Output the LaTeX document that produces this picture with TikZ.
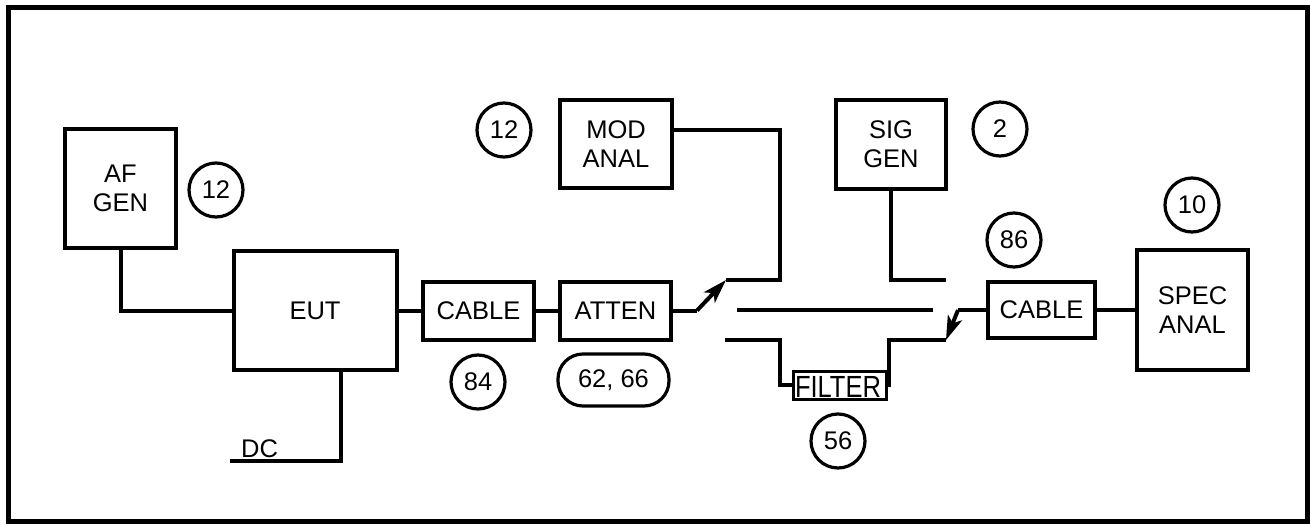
\documentclass[tikz,border=0pt]{standalone}
\usepackage{fontspec}
\setmainfont{Liberation Sans}
\usetikzlibrary{arrows.meta}
\begin{document}
\begin{tikzpicture}[x=1pt,y=-1pt,
  every node/.style={font=\fontsize{25.5}{29}\selectfont, align=center, inner sep=0pt},
  blk/.style={draw, line width=4pt, rectangle},
  ref/.style={draw, line width=3.2pt, circle, minimum size=54pt},
  pill/.style={draw, line width=3.2pt, rectangle, rounded corners=25pt},
  wire/.style={line width=4pt},
  sw/.style={line width=4pt, -{Stealth[length=24pt,width=15pt,inset=6pt]}}
]
\useasboundingbox (0,0) rectangle (1310,525);
\draw[line width=5pt] (8,7) rectangle (1307,521);

% blocks
\node[blk, minimum width=111pt, minimum height=119pt] (afgen) at (120.5,188.5) {AF\\GEN};
\node[blk, minimum width=163pt, minimum height=119pt] (eut) at (315,310.5) {EUT};
\node[blk, minimum width=111pt, minimum height=58pt] (cable1) at (478.5,310.5) {CABLE};
\node[blk, minimum width=111pt, minimum height=58pt] (atten) at (615.5,310.5) {ATTEN};
\node[blk, minimum width=112pt, minimum height=88pt] (modanal) at (616,144) {MOD\\ANAL};
\node[blk, minimum width=110pt, minimum height=89pt] (siggen) at (891,144.5) {SIG\\GEN};
\node[blk, minimum width=107pt, minimum height=56pt] (cable2) at (1041.5,310) {CABLE};
\node[blk, minimum width=111pt, minimum height=120pt] (specanal) at (1192.5,310) {SPEC\\ANAL};
\node[draw, line width=3pt, minimum width=93pt, minimum height=28pt] (filter) at (839.5,385) {};
\node at (838,387) {\scalebox{1}[1.2]{FILTER}};

% reference numbers
\node[ref] (r12a) at (216,190) {12};
\node[ref] (r12b) at (504,130) {12};
\node[ref] (r2) at (1000,129) {2};
\node[ref] (r86) at (1014,240) {86};
\node[ref] (r10) at (1192,205) {10};
\node[ref] (r84) at (478,382) {84};
\node[pill, minimum width=111pt, minimum height=52pt] (r6266) at (613.5,380) {62, 66};
\node[ref] (r56) at (838,441) {56};

% DC
\coordinate (dcend) at (230,461);
\coordinate (dccorner) at (341,461);
\node[anchor=base west] (dclabel) at (241,457) {DC};
\draw[wire] (dcend) -- (dccorner) -- (dccorner |- eut.south);

% wiring
\draw[wire] (afgen.south) |- (eut.west);
\draw[wire] (eut.east) -- (cable1.west);
\draw[wire] (cable1.east) -- (atten.west);
\draw[wire] (cable2.east) -- (specanal.west);

% left switch
\coordinate (s1p) at (697,310.5);
\coordinate (s1a) at (726,280);
\coordinate (s1b) at (725,340);
\coordinate (t1) at (780,280);
\coordinate (t2) at (780,130);
\draw[wire] (atten.east) -- (s1p);
\draw[sw] (s1p) -- (s1a);
\draw[wire] (s1a) -- (t1) -- (t2) -- (t2 -| modanal.east);

% middle through line
\coordinate (m1) at (737,310);
\coordinate (m2) at (933,310);
\draw[wire] (m1) -- (m2);

% filter path
\coordinate (f1) at (780,340);
\coordinate (f2) at (889,340);
\coordinate (s2b) at (946,340);
\draw[wire] (s1b) -- (f1) |- (filter.west);
\draw[wire] (filter.east) -| (f2) -- (s2b);

% sig gen path
\coordinate (g1) at (891,280);
\coordinate (s2a) at (946,280);
\draw[wire] (siggen.south) -- (g1) -- (s2a);

% right switch
\coordinate (s2p) at (958,310);
\draw[wire] (cable2.west) -- (s2p);
\draw[sw] (s2p) -- (s2b);
\end{tikzpicture}
\end{document}
